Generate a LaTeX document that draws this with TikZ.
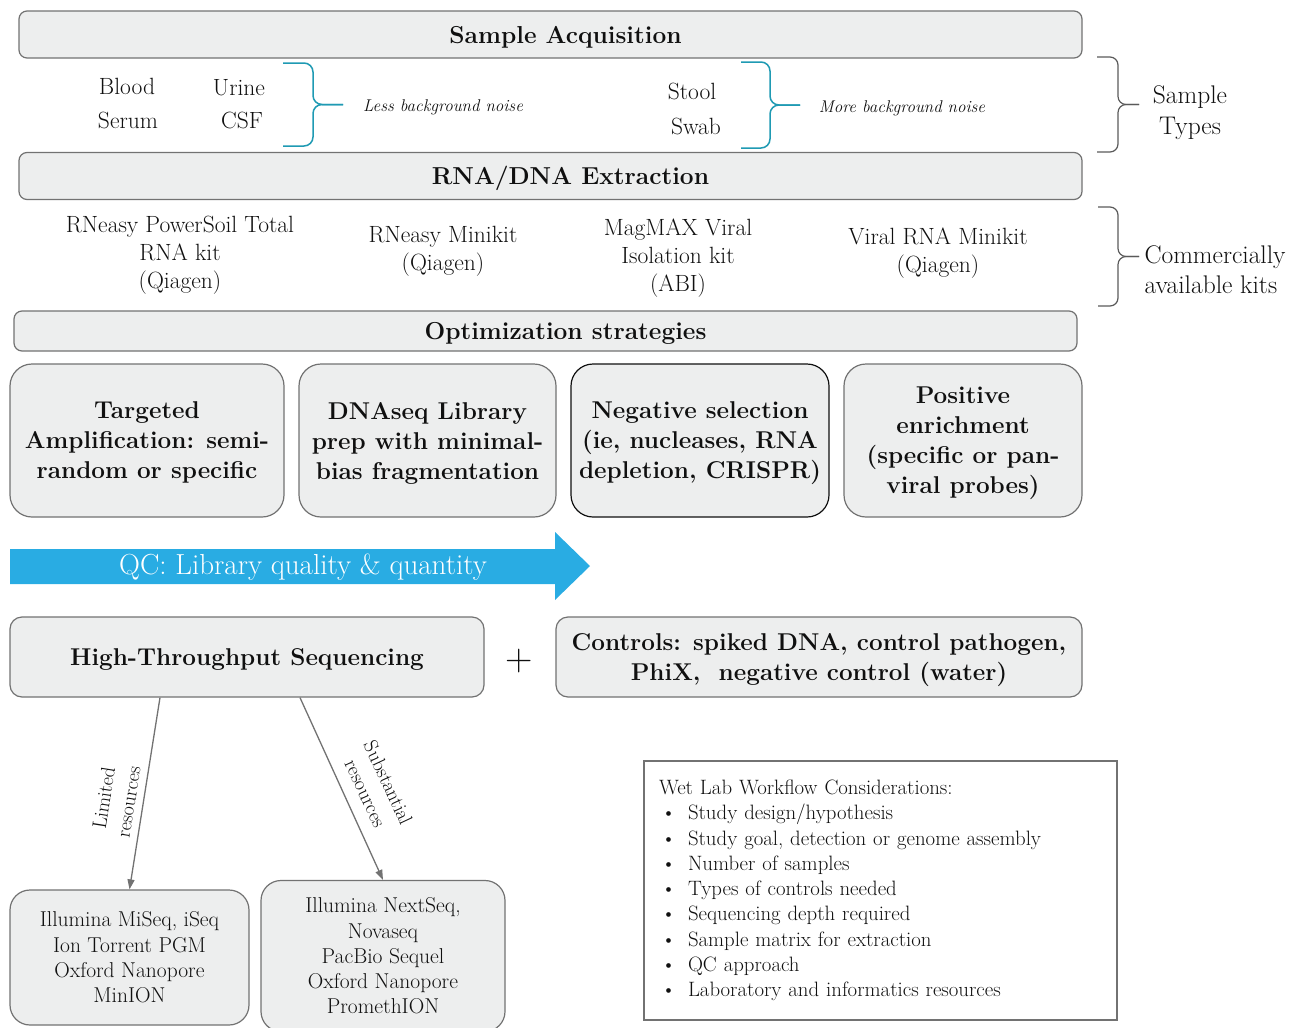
\documentclass[tikz,border=0pt]{standalone}
\usetikzlibrary{positioning,arrows.meta}
\definecolor{boxfill}{HTML}{EDEEEE}
\definecolor{boxline}{HTML}{727272}
\definecolor{ink}{HTML}{101010}
\definecolor{tealbrace}{HTML}{1F9AB3}
\definecolor{qcblue}{HTML}{29ACE3}
\definecolor{graybrace}{HTML}{5A5A5A}
% side brace: style, x start, x of the spine, x of the tip, y top, y bottom
\newcommand{\sidebrace}[6]{%
  \draw[#1] (#2,#5) -- (#3,#5) -- (#3,{(#5+#6)/2}) -- (#4,{(#5+#6)/2});
  \draw[#1] (#2,#6) -- (#3,#6) -- (#3,{(#5+#6)/2}) -- (#4,{(#5+#6)/2});}
\tikzset{
  bar/.style={draw=boxline, fill=boxfill, line width=1.2pt, rounded corners=8pt,
    minimum height=47pt, text=ink, text height=17pt, text depth=0pt,
    font=\fontsize{24.5}{28}\selectfont\bfseries},
  optbox/.style={draw=boxline, fill=boxfill, line width=1.2pt, rounded corners=22pt,
    minimum height=153pt, align=center, text=ink, text depth=0pt,
    font=\fontsize{24.3}{30}\selectfont\bfseries},
  seqbox/.style={draw=boxline, fill=boxfill, line width=1.2pt, rounded corners=12pt,
    minimum height=80pt, align=center, text=ink, text depth=0pt,
    font=\fontsize{24.3}{30}\selectfont\bfseries},
  platbox/.style={draw=boxline, fill=boxfill, line width=1.2pt, rounded corners=20pt,
    align=center, text=ink, font=\fontsize{21.5}{25.3}\selectfont},
  plain/.style={text=ink, align=center, font=\fontsize{23.5}{28}\selectfont},
  noise/.style={text=ink, font=\fontsize{17}{20}\selectfont\itshape},
  tbrace/.style={draw=tealbrace, line width=1.5pt, rounded corners=9pt},
  gbrace/.style={draw=graybrace, line width=1.2pt, rounded corners=8pt},
  resarrow/.style={draw=boxline, line width=1.3pt, -{Triangle[length=10pt,width=7pt]}},
  reslabel/.style={text=ink, align=center, font=\fontsize{20}{25}\selectfont},
}
\begin{document}
\begin{tikzpicture}[x=1pt, y=-1pt]
  \useasboundingbox (0,0) rectangle (1291,1028);
  % sample acquisition
  \node[bar, minimum width=1063pt] (acq) at (550.5,34.5) {\hspace*{30pt}Sample Acquisition};
  \node[plain] (blood) at (127,86) {Blood};
  \node[plain] (urine) at (239,88) {Urine};
  \node[plain] (serum) at (128,120) {Serum};
  \node[plain] (csf) at (242,120) {CSF};
  \sidebrace{tbrace}{283}{313}{343}{63}{146}
  \node[noise] (less) at (443,107) {Less background noise};
  \node[plain] (stool) at (692,91) {Stool};
  \node[plain] (swab) at (696,126) {Swab};
  \sidebrace{tbrace}{741}{770}{800}{62}{148}
  \node[noise] (more) at (902,108) {More background noise};
  \sidebrace{gbrace}{1097}{1118}{1139}{57}{152}
  \node[plain, font=\fontsize{25.5}{31}\selectfont] (types) at (1190,113) {Sample\\Types};
  % extraction
  \node[bar, minimum width=1063pt] (extr) at (550.5,176) {\hspace*{40pt}RNA/DNA Extraction};
  \node[plain] (kit1) at (180,255) {RNeasy PowerSoil Total\\RNA kit\\(Qiagen)};
  \node[plain] (kit2) at (443,251) {RNeasy Minikit\\(Qiagen)};
  \node[plain] (kit3) at (678,258) {MagMAX Viral\\Isolation kit\\(ABI)};
  \node[plain] (kit4) at (938,253) {Viral RNA Minikit\\(Qiagen)};
  \sidebrace{gbrace}{1098}{1118}{1139}{207}{306}
  \node[plain, align=left, anchor=west, font=\fontsize{25.5}{30}\selectfont] (kits) at (1141,270)
    {Commercially\\available kits};
  % optimization
  \node[bar, minimum width=1063pt, minimum height=40pt] (opt) at (545.5,331) {\hspace*{40pt}Optimization strategies};
  \node[optbox, minimum width=274pt] (targ) at (147,440.5) {Targeted\\Amplification: semi-\\random or specific};
  \node[optbox, minimum width=257pt] (dnaseq) at (427.5,440.5) {DNAseq Library\\prep with minimal-\\bias fragmentation};
  \node[optbox, minimum width=258pt, draw=ink] (negsel) at (700,440.5) {Negative selection\\(ie, nucleases, RNA\\depletion, CRISPR)};
  \node[optbox, minimum width=238pt] (posenr) at (963,440.5) {Positive\\enrichment\\(specific or pan-\\viral probes)};
  % QC arrow
  \fill[qcblue] (10,549) -- (555,549) -- (555,532) -- (590,566) -- (555,600) -- (555,584) -- (10,584) -- cycle;
  \node[text=white, font=\fontsize{29}{32}\selectfont] (qc) at (303,567) {QC: Library quality \& quantity};
  % sequencing
  \node[seqbox, minimum width=474pt] (hts) at (247,657) {High-Throughput Sequencing};
  \node[text=ink, font=\fontsize{38}{40}\selectfont] (plus) at (519,661) {+};
  \node[seqbox, minimum width=526pt] (ctrl) at (819,657) {Controls: spiked DNA, control pathogen,\\PhiX,\ \ negative control (water)};
  \node[platbox, minimum width=239pt, minimum height=135pt] (low) at (129.5,957.5)
    {Illumina MiSeq, iSeq\\Ion Torrent PGM\\Oxford Nanopore\\MinION};
  \node[platbox, minimum width=244pt, minimum height=151pt] (high) at (383,956)
    {Illumina NextSeq,\\Novaseq\\PacBio Sequel\\Oxford Nanopore\\PromethION};
  \draw[resarrow] ([xshift=-87pt]hts.south) -- (low.north);
  \draw[resarrow] ([xshift=53pt]hts.south) -- (high.north);
  \node[reslabel, rotate=81] (limlab) at (116,800) {Limited\\resources};
  \node[reslabel, rotate=-65] (sublab) at (377,788) {Substantial\\resources};
  % considerations
  \node[draw=boxline, line width=1.2pt, minimum height=259pt, text width=443pt, inner xsep=15pt,
    align=left, text=ink, font=\fontsize{20.8}{25.3}\selectfont] (cons) at (880.5,890.5)
    {Wet Lab Workflow Considerations:\\
     \makebox[29pt][l]{\hspace{2pt}\textbullet}Study design/hypothesis\\
     \makebox[29pt][l]{\hspace{2pt}\textbullet}Study goal, detection or genome assembly\\
     \makebox[29pt][l]{\hspace{2pt}\textbullet}Number of samples\\
     \makebox[29pt][l]{\hspace{2pt}\textbullet}Types of controls needed\\
     \makebox[29pt][l]{\hspace{2pt}\textbullet}Sequencing depth required\\
     \makebox[29pt][l]{\hspace{2pt}\textbullet}Sample matrix for extraction\\
     \makebox[29pt][l]{\hspace{2pt}\textbullet}QC approach\\
     \makebox[29pt][l]{\hspace{2pt}\textbullet}Laboratory and informatics resources};
\end{tikzpicture}
\end{document}
